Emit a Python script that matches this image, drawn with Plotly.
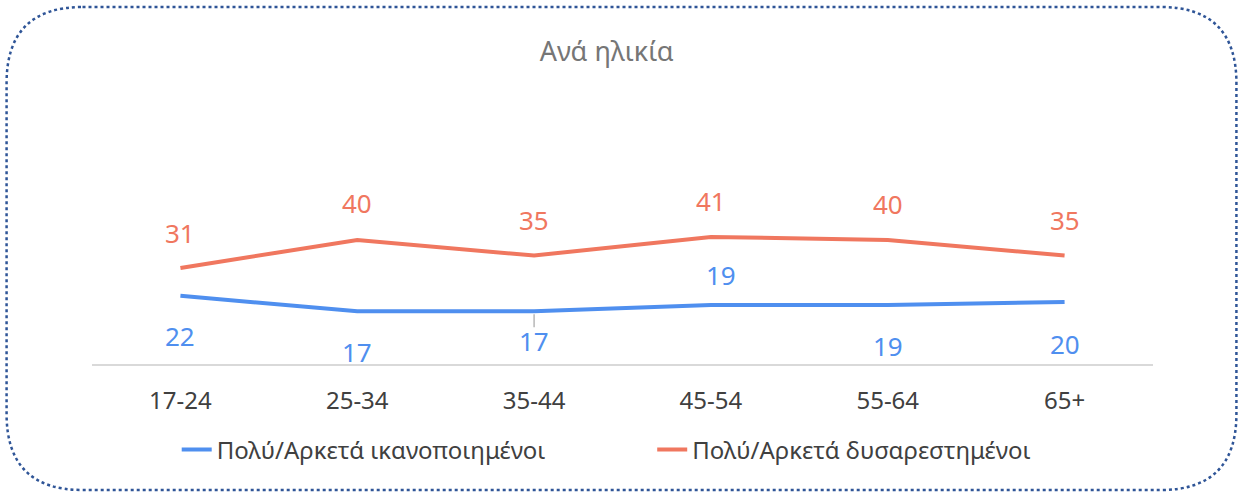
import plotly.graph_objects as go

categories = ["17-24", "25-34", "35-44", "45-54", "55-64", "65+"]
satisfied = [22, 17, 17, 19, 19, 20]
dissatisfied = [31, 40, 35, 41, 40, 35]
series_names = ["Πολύ/Αρκετά ικανοποιημένοι", "Πολύ/Αρκετά δυσαρεστημένοι"]
title_text = "Ανά ηλικία"

BLUE = "#4F8FEF"
RED = "#F0775F"
FONT = "Noto Sans"

# label offsets in pixels (styling)
blue_shift = [-40, -41, -30, 30, -41, -42]
red_shift = [35, 37, 36, 36, 36, 36]
blue_xshift = [0, 0, 0, 10, 0, 0]

W, H = 1243, 495
L, R = 91.5, 1153.5
T, B = 178, 364

fig = go.Figure()
fig.add_trace(go.Scatter(x=categories, y=satisfied, mode="lines", name=series_names[0],
                         line=dict(color=BLUE, width=4)))
fig.add_trace(go.Scatter(x=categories, y=dissatisfied, mode="lines", name=series_names[1],
                         line=dict(color=RED, width=4)))

ann = []
for i, c in enumerate(categories):
    ann.append(dict(x=c, y=satisfied[i], text=str(satisfied[i]), showarrow=False,
                    yshift=blue_shift[i], xshift=blue_xshift[i],
                    font=dict(family=FONT, size=26, color=BLUE)))
    ann.append(dict(x=c, y=dissatisfied[i], text=str(dissatisfied[i]), showarrow=False,
                    yshift=red_shift[i], font=dict(family=FONT, size=26, color=RED)))

def px(x):
    return (x - L) / (R - L)

def py(y):
    return (B - y) / (B - T)

# rounded dotted border path in paper coords
x0, x1, y0, y1, r = 6, 1237, 7, 490, 76
path = (f"M {px(x0+r)},{py(y0)} L {px(x1-r)},{py(y0)} "
        f"Q {px(x1)},{py(y0)} {px(x1)},{py(y0+r)} "
        f"L {px(x1)},{py(y1-r)} Q {px(x1)},{py(y1)} {px(x1-r)},{py(y1)} "
        f"L {px(x0+r)},{py(y1)} Q {px(x0)},{py(y1)} {px(x0)},{py(y1-r)} "
        f"L {px(x0)},{py(y0+r)} Q {px(x0)},{py(y0)} {px(x0+r)},{py(y0)} Z")

shapes = [
    dict(type="path", path=path, xref="paper", yref="paper",
         line=dict(color="#2F5597", width=2.5, dash="dot"), layer="above"),
    dict(type="line", xref="x", yref="y", x0=categories[2], x1=categories[2],
         ysizemode="pixel", yanchor=satisfied[2], y0=-3, y1=-16,
         line=dict(color="#A6A6A6", width=1.2)),
]

fig.update_layout(
    width=W, height=H,
    margin=dict(l=L, r=W - R, t=T, b=H - B),
    paper_bgcolor="white", plot_bgcolor="white",
    title=dict(text=title_text, x=0.488, xanchor="center", y=1 - 52 / H, yanchor="middle",
               yref="container", font=dict(family=FONT, size=27, color="#767676")),
    xaxis=dict(showgrid=False, zeroline=False, showline=True, linecolor="#D9D9D9", linewidth=1.5,
               tickfont=dict(family=FONT, size=24, color="#404040"), ticks="",
               ticklabelstandoff=14, range=[-0.5, 5.5], fixedrange=True),
    yaxis=dict(range=[0, 60], showgrid=False, zeroline=False, showline=False,
               showticklabels=False, fixedrange=True),
    legend=dict(orientation="h", x=0.528, xanchor="center", y=py(450), yanchor="middle",
                font=dict(family=FONT, size=24, color="#404040"), entrywidth=430.5,
                bgcolor="rgba(0,0,0,0)"),
    annotations=ann,
    shapes=shapes,
    showlegend=True,
)

fig.write_html("out.html", config={"displayModeBar": False},
               post_script="document.body.style.margin='0';document.body.style.overflow='hidden';")
